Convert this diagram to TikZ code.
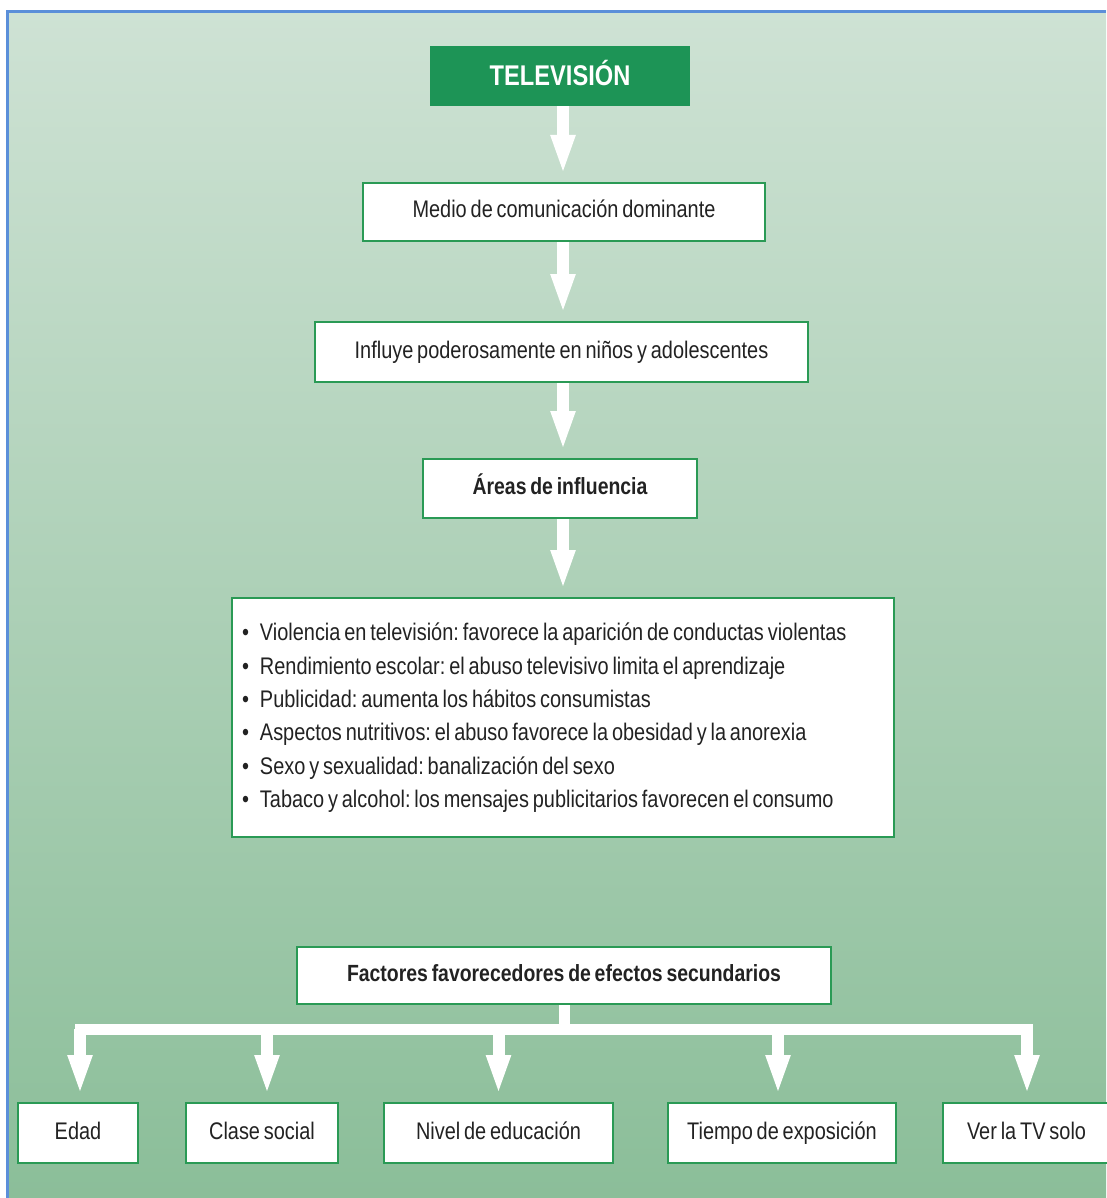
\documentclass[tikz,border=0pt]{standalone}
\usepackage{fontspec}
\setmainfont{Liberation Sans}[FakeStretch=0.83, WordSpace=0.7]
\usetikzlibrary{arrows.meta,positioning,calc}
\definecolor{tvgreen}{HTML}{1D9456}
\definecolor{boxgreen}{HTML}{2A9A55}
\definecolor{bgtop}{HTML}{CEE2D4}
\definecolor{bgbot}{HTML}{8BBE99}
\definecolor{frameblue}{HTML}{5B8FD9}
\definecolor{txt}{HTML}{222222}
\tikzset{
  wbase/.style={draw=boxgreen, line width=2pt, fill=white, inner sep=0pt, text=txt},
  wbox/.style={wbase, font=\fontsize{24}{28}\selectfont, text height=17pt, text depth=5pt},
  bbox/.style={wbase, font=\fontsize{23.4}{28}\selectfont\bfseries, text height=17pt, text depth=5pt},
  tvbox/.style={fill=tvgreen, inner sep=0pt, text=white, font=\fontsize{28.5}{32}\selectfont\bfseries, text height=21pt, text depth=2pt},
  bigarrow/.style={draw=white, line width=12pt, -{Triangle[width=22pt,length=40pt]}, shorten >=7pt},
  shaft/.style={draw=white, line width=11pt},
}
\newcommand{\itm}{\makebox[18pt][l]{\textbullet}}
\begin{document}
\frenchspacing
\begin{tikzpicture}[x=1pt,y=-1pt]
\useasboundingbox (0,0) rectangle (1106,1198);
\shade[top color=bgtop, bottom color=bgbot] (7,11) rectangle (1106,1198);
\draw[frameblue, line width=3pt] (7.5,1198) -- (7.5,11.5) -- (1106,11.5);

\coordinate (axis) at (563,0);
\node[tvbox, minimum width=260pt, minimum height=60pt] (tv) at (560,76) {TELEVISIÓN};
\node[wbox, minimum width=402pt, minimum height=58pt] (medio) at (564,212) {Medio de comunicación dominante};
\node[wbox, minimum width=493pt, minimum height=60pt] (influye) at (561.5,352) {Influye poderosamente en niños y adolescentes};
\node[bbox, minimum width=274pt, minimum height=59pt] (areas) at (560,488.5) {Áreas de influencia};
\node[wbase, minimum width=662pt, minimum height=239pt, font=\fontsize{24}{33.4}\selectfont] (lista) at (563,717.5) {%
\makebox[642pt][l]{\raisebox{4pt}{\begin{tabular}{@{}l@{}}
\itm Violencia en televisión: favorece la aparición de conductas violentas\\
\itm Rendimiento escolar: el abuso televisivo limita el aprendizaje\\
\itm Publicidad: aumenta los hábitos consumistas\\
\itm Aspectos nutritivos: el abuso favorece la obesidad y la anorexia\\
\itm Sexo y sexualidad: banalización del sexo\\
\itm Tabaco y alcohol: los mensajes publicitarios favorecen el consumo
\end{tabular}}}};
\node[bbox, minimum width=534pt, minimum height=57pt] (fac) at (564,975.5) {Factores favorecedores de efectos secundarios};

\node[wbox, minimum width=120pt, minimum height=60pt] (edad) at (78,1133) {Edad};
\node[wbox, minimum width=152pt, minimum height=60pt] (clase) at (262,1133) {Clase social};
\node[wbox, minimum width=229pt, minimum height=60pt] (nivel) at (498.5,1133) {Nivel de educación};
\node[wbox, minimum width=228pt, minimum height=60pt] (tiempo) at (782,1133) {Tiempo de exposición};
\node[wbox, minimum width=170pt, minimum height=60pt] (ver) at (1028,1133) {\makebox[122pt][l]{Ver la TV solo}};

\draw[bigarrow] (tv.south -| axis) -- (medio.north -| axis);
\draw[bigarrow] (medio.south -| axis) -- (influye.north -| axis);
\draw[bigarrow] (influye.south -| axis) -- (areas.north -| axis);
\draw[bigarrow] (areas.south -| axis) -- (lista.north -| axis);

\coordinate (bar) at (0,1029);
\draw[shaft] (fac.south) -- (fac.south |- bar);
\draw[shaft, line cap=rect] ([xshift=2pt]edad.north |- bar) -- ([xshift=-1pt]ver.north |- bar);
\draw[bigarrow] ([xshift=2pt]edad.north |- bar) -- ([xshift=2pt]edad.north);
\draw[bigarrow] ([xshift=5pt]clase.north |- bar) -- ([xshift=5pt]clase.north);
\draw[bigarrow] (nivel.north |- bar) -- (nivel.north);
\draw[bigarrow] ([xshift=-4pt]tiempo.north |- bar) -- ([xshift=-4pt]tiempo.north);
\draw[bigarrow] ([xshift=-1pt]ver.north |- bar) -- ([xshift=-1pt]ver.north);
\end{tikzpicture}
\end{document}
